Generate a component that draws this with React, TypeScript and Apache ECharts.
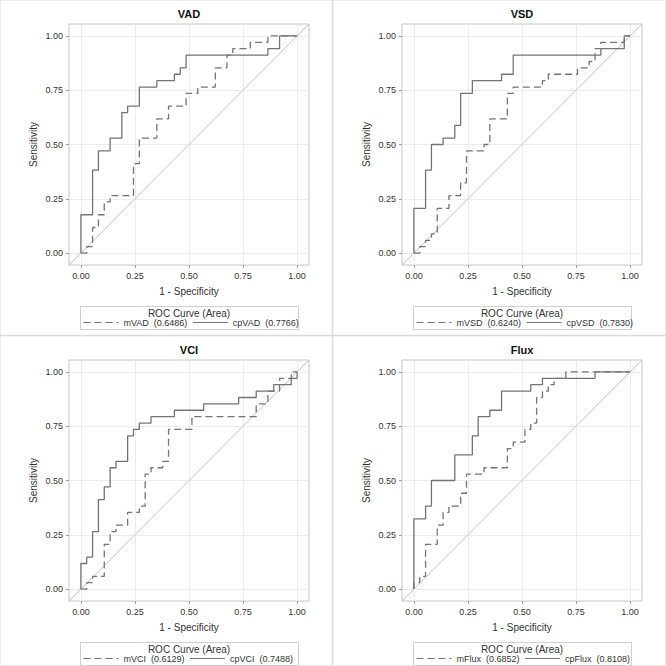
import React, { useEffect, useRef } from "react";
import * as echarts from "echarts";

// Sample sizes (negatives on the x axis, positives on the y axis)
const N_NEG = 37;
const N_POS = 34;

const panelTitles = ["VAD", "VSD", "VCI", "Flux"];
const dashedNames = ["mVAD", "mVSD", "mVCI", "mFlux"];
const solidNames = ["cpVAD", "cpVSD", "cpVCI", "cpFlux"];
const dashedAreas = ["0.6486", "0.6240", "0.6129", "0.6852"];
const solidAreas = ["0.7766", "0.7830", "0.7488", "0.8108"];

// ROC operating points: false-positive counts (of 37) and true-positive counts (of 34)
const mVadFp = [0, 1, 2, 3, 4, 5, 9, 10, 13, 15, 18, 20, 23, 25, 26, 29, 32, 37];
const mVadTp = [0, 1, 4, 6, 8, 9, 14, 18, 21, 23, 25, 26, 29, 31, 32, 33, 34, 34];
const cpVadFp = [0, 0, 2, 3, 5, 7, 8, 10, 13, 16, 17, 18, 32, 34, 37];
const cpVadTp = [0, 6, 13, 16, 18, 22, 23, 26, 27, 28, 29, 31, 32, 34, 34];

const mVsdFp = [0, 1, 2, 3, 4, 6, 8, 9, 12, 13, 16, 17, 22, 23, 28, 30, 31, 32, 36, 37];
const mVsdTp = [0, 1, 2, 3, 7, 9, 11, 16, 17, 21, 25, 26, 27, 28, 29, 30, 32, 33, 34, 34];
const cpVsdFp = [0, 0, 2, 3, 5, 7, 8, 10, 15, 17, 32, 36, 37];
const cpVsdTp = [0, 7, 13, 17, 18, 20, 25, 27, 28, 31, 32, 34, 34];

const mVciFp = [0, 1, 2, 4, 5, 6, 8, 10, 11, 12, 14, 15, 19, 30, 32, 34, 36, 37];
const mVciTp = [0, 1, 2, 7, 9, 10, 12, 13, 18, 19, 20, 25, 27, 29, 31, 33, 34, 34];
const cpVciFp = [0, 0, 1, 2, 3, 4, 5, 6, 8, 9, 10, 12, 16, 21, 27, 30, 33, 36, 37];
const cpVciTp = [0, 4, 5, 9, 14, 16, 19, 20, 24, 25, 26, 27, 28, 29, 30, 31, 32, 33, 34];

const mFluxFp = [0, 0, 1, 2, 4, 5, 6, 8, 9, 12, 16, 17, 19, 20, 21, 22, 23, 24, 26, 37];
const mFluxTp = [0, 1, 2, 7, 10, 12, 13, 15, 18, 19, 22, 23, 25, 26, 30, 31, 32, 33, 34, 34];
const cpFluxFp = [0, 0, 2, 3, 7, 10, 11, 13, 15, 20, 22, 31, 37];
const cpFluxTp = [0, 11, 13, 17, 21, 24, 27, 28, 31, 32, 33, 34, 34];

const dashedFp = [mVadFp, mVsdFp, mVciFp, mFluxFp];
const dashedTp = [mVadTp, mVsdTp, mVciTp, mFluxTp];
const solidFp = [cpVadFp, cpVsdFp, cpVciFp, cpFluxFp];
const solidTp = [cpVadTp, cpVsdTp, cpVciTp, cpFluxTp];

const tickValues = [0, 0.25, 0.5, 0.75, 1];
const AX_MIN = -0.055;
const AX_MAX = 1.055;

const FONT = "'Liberation Sans', Arial, Helvetica, sans-serif";
const CURVE = "#747474";

function rocPoints(fp: number[], tp: number[]) {
  return fp.map((f, i) => [f / N_NEG, tp[i] / N_POS]);
}

export default function App() {
  const ref = useRef<HTMLDivElement>(null);

  useEffect(() => {
    if (!ref.current) return;
    const chart = echarts.init(ref.current, null, { renderer: "svg" });

    const grids: any[] = [];
    const xAxes: any[] = [];
    const yAxes: any[] = [];
    const series: any[] = [];
    const legends: any[] = [];
    const titles: any[] = [];
    const graphics: any[] = [];

    graphics.push({
      type: "rect",
      shape: { x: 0.5, y: 0.5, width: 665, height: 665 },
      style: { fill: "none", stroke: "#ececec", lineWidth: 1 },
      silent: true,
    });
    graphics.push({
      type: "line",
      shape: { x1: 332.5, y1: 0, x2: 332.5, y2: 666 },
      style: { stroke: "#dadada", lineWidth: 1.5 },
      silent: true,
    });
    graphics.push({
      type: "line",
      shape: { x1: 0, y1: 335.5, x2: 666, y2: 335.5 },
      style: { stroke: "#dadada", lineWidth: 1.5 },
      silent: true,
    });

    for (let i = 0; i < 4; i++) {
      const c = i % 2;
      const r = Math.floor(i / 2);
      const ox = 333 * c;
      const oy = 336 * r;

      grids.push({
        left: 69 + ox,
        top: 24 + oy,
        width: 240,
        height: 241,
        show: true,
        borderColor: "#c6c6c6",
        borderWidth: 1,
        backgroundColor: "transparent",
      });

      xAxes.push({
        type: "value",
        gridIndex: i,
        min: AX_MIN,
        max: AX_MAX,
        position: "bottom",
        name: "1 - Specificity",
        nameLocation: "middle",
        nameGap: 21,
        nameTextStyle: { fontSize: 10, color: "#333", fontFamily: FONT },
        axisLine: { show: false, onZero: false },
        axisTick: { show: true, length: 3, customValues: tickValues, lineStyle: { color: "#9a9a9a" } },
        axisLabel: {
          customValues: tickValues,
          formatter: (v: number) => v.toFixed(2),
          fontSize: 9,
          color: "#333",
          margin: 6,
          fontFamily: FONT,
        },
        splitLine: { show: true, lineStyle: { color: "#ececec", width: 1 } },
      });

      yAxes.push({
        type: "value",
        gridIndex: i,
        min: AX_MIN,
        max: AX_MAX,
        position: "left",
        name: "Sensitivity",
        nameLocation: "middle",
        nameGap: 31,
        nameTextStyle: { fontSize: 10, color: "#333", fontFamily: FONT },
        axisLine: { show: false, onZero: false },
        axisTick: { show: true, length: 3, customValues: tickValues, lineStyle: { color: "#9a9a9a" } },
        axisLabel: {
          customValues: tickValues,
          formatter: (v: number) => v.toFixed(2),
          fontSize: 9,
          color: "#333",
          margin: 6,
          fontFamily: FONT,
        },
        splitLine: { show: true, lineStyle: { color: "#ececec", width: 1 } },
      });

      // diagonal chance line
      series.push({
        type: "line",
        xAxisIndex: i,
        yAxisIndex: i,
        data: [
          [AX_MIN, AX_MIN],
          [AX_MAX, AX_MAX],
        ],
        symbol: "none",
        silent: true,
        z: 1,
        lineStyle: { color: "#c4c4c4", width: 1 },
      });

      const dName = `${dashedNames[i]}  (${dashedAreas[i]})`;
      const sName = `${solidNames[i]}  (${solidAreas[i]})`;

      series.push({
        type: "line",
        name: dName,
        xAxisIndex: i,
        yAxisIndex: i,
        step: "end",
        data: rocPoints(dashedFp[i], dashedTp[i]),
        symbol: "none",
        z: 3,
        color: CURVE,
        lineStyle: { color: CURVE, width: 1.3, type: [7, 4] },
      });
      series.push({
        type: "line",
        name: sName,
        xAxisIndex: i,
        yAxisIndex: i,
        step: "end",
        data: rocPoints(solidFp[i], solidTp[i]),
        symbol: "none",
        z: 4,
        color: CURVE,
        lineStyle: { color: CURVE, width: 1.3, type: "solid" },
      });

      legends.push({
        data: [dName, sName],
        left: 83 + ox,
        top: 318 + oy,
        orient: "horizontal",
        itemWidth: 35,
        itemHeight: 8,
        itemGap: 5,
        padding: 0,
        selectedMode: false,
        itemStyle: { opacity: 0 },
        lineStyle: { width: 1 },
        textStyle: { fontSize: 9, color: "#333", fontFamily: FONT },
      });

      titles.push({
        text: panelTitles[i],
        left: 189 + ox,
        top: 8 + oy,
        textAlign: "center",
        padding: 0,
        textStyle: { fontSize: 11, fontWeight: "bold", color: "#111", fontFamily: FONT },
      });

      graphics.push({
        type: "rect",
        shape: { x: 80.5 + ox, y: 306.5 + oy, width: 218, height: 23 },
        style: { fill: "none", stroke: "#d0d0d0", lineWidth: 1 },
        silent: true,
      });
      graphics.push({
        type: "text",
        x: 189 + ox,
        y: 313 + oy,
        style: {
          text: "ROC Curve (Area)",
          fontSize: 10,
          fontFamily: FONT,
          fill: "#333",
          textAlign: "center",
          textVerticalAlign: "middle",
        },
        silent: true,
      });
    }

    chart.setOption({
      animation: false,
      backgroundColor: "#ffffff",
      textStyle: { fontFamily: FONT },
      title: titles,
      grid: grids,
      xAxis: xAxes,
      yAxis: yAxes,
      legend: legends,
      series,
      graphic: { elements: graphics },
    });

    return () => chart.dispose();
  }, []);

  return (
    <div
      ref={ref}
      style={{ position: "fixed", left: 0, top: 0, width: 666, height: 666, background: "#fff" }}
    />
  );
}
